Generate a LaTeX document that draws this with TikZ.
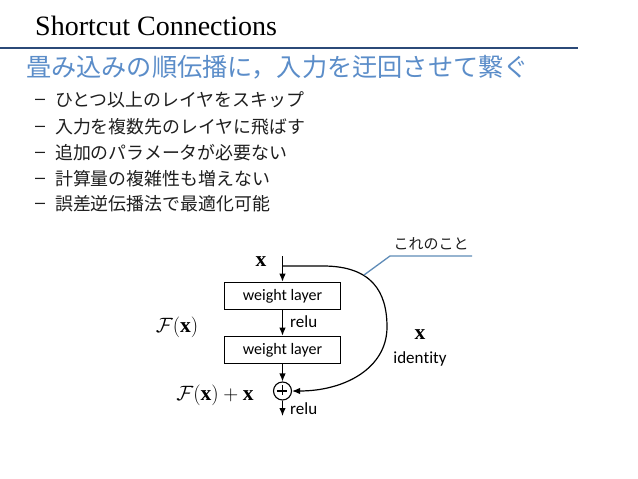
\documentclass[tikz,border=0pt]{standalone}
\usepackage{fontspec}
\setmainfont{Liberation Serif}
\newfontfamily\jpfont{Noto Sans CJK JP}
\newfontfamily\carl[Ligatures=NoCommon]{Carlito}
\newfontfamily\dashfont{Liberation Sans}
\usetikzlibrary{arrows.meta}
\definecolor{navy}{HTML}{2B4A78}
\definecolor{subblue}{HTML}{5B8DC9}
\definecolor{callblue}{HTML}{5F8CB8}
\definecolor{txt}{HTML}{1E1E1E}
\begin{document}
\begin{tikzpicture}[x=1pt,y=-1pt,
  bullet/.style={anchor=west,inner sep=0,text=txt,font=\jpfont\fontsize{17.9}{19}\selectfont},
  dashmark/.style={anchor=base west,inner sep=0,text=txt,font=\dashfont\fontsize{18}{19}\selectfont},
  wbox/.style={draw=black,line width=1.1pt,minimum width=116,minimum height=27.5,inner sep=0,font=\carl\fontsize{16}{18}\selectfont},
  lbl/.style={inner sep=0,font=\carl\fontsize{17}{19}\selectfont},
  mlbl/.style={inner sep=0,font=\fontsize{21.5}{23}\selectfont},
  arr/.style={line width=1.2pt,-{Latex[length=8,width=6.5]}},
  plain/.style={line width=1.2pt}]
\useasboundingbox (0,0) rectangle (638,479);
\fill[white] (0,0) rectangle (638,479);
% title
\node[anchor=base west,inner sep=0,font=\fontsize{28}{30}\selectfont] (title) at (35,35) {Shortcut Connections};
\coordinate (ruleL) at (0,48);
\coordinate (ruleR) at (578,48);
\draw[navy,line width=2.5pt] (ruleL) -- (ruleR);
\node[anchor=west,inner sep=0,text=subblue,font=\jpfont\fontsize{25.2}{27}\selectfont] (sub) at (26,67) {畳み込みの順伝播に，入力を迂回させて繋ぐ};
% bullets
\foreach \y/\t [count=\i] in {100/ひとつ以上のレイヤをスキップ,127/入力を複数先のレイヤに飛ばす,153/追加のパラメータが必要ない,179/計算量の複雑性も増えない,204/誤差逆伝播法で最適化可能}{
  \node[bullet] (b\i) at (55,\y) {\t};
  \node[dashmark,xshift=-20pt,yshift=2.5pt] (d\i) at (b\i.base west) {–};
}
% diagram
\coordinate (xin) at (282.5,256);
\coordinate (bend) at (282.5,266);
\node[wbox] (w1) at (282.5,296) {weight layer};
\node[wbox] (w2) at (282.5,350) {weight layer};
\node[draw=black,line width=1.1pt,circle,minimum size=18,inner sep=0] (plus) at (282.5,391) {};
\draw[line width=1.1pt] (plus.north) ++(0,4) -- ++(0,10);
\draw[line width=1.1pt] (plus.west) ++(4,0) -- ++(10,0);
\coordinate (out) at (282.5,416);
\draw[arr] (xin) -- (w1.north);
\draw[arr] (w1.south) -- (w2.north);
\draw[arr] (w2.south) -- (plus.north);
\draw[arr] (plus.south) -- (out);
\draw[arr] (bend) -- (323,266) .. controls (372,266) and (387,292) .. (387,327) .. controls (387,368) and (345,391) .. (plus.east);
\node[mlbl] (xtop) at (261,262) {$\mathbf{x}$};
\node[lbl,anchor=west] (relu1) at (290,322) {relu};
\node[lbl,anchor=west] (relu2) at (290,409) {relu};
\node[mlbl] (fx) at (177,327) {$\mathcal{F}(\mathbf{x})$};
\node[mlbl] (fxx) at (215,395) {$\mathcal{F}(\mathbf{x})+\mathbf{x}$};
\node[mlbl] (xr) at (420,335) {$\mathbf{x}$};
\node[lbl] (ident) at (420,359) {iden\kern0pt t\kern0pt ity};
% callout
\node[inner sep=0,text=txt,font=\jpfont\fontsize{15}{17}\selectfont] (call) at (431,244) {これのこと};
\coordinate (c1) at (364,275);
\coordinate (c2) at (390,256);
\coordinate (c3) at (472,256);
\draw[callblue,line width=1.3pt] (c1) -- (c2) -- (c3);
\end{tikzpicture}
\end{document}
